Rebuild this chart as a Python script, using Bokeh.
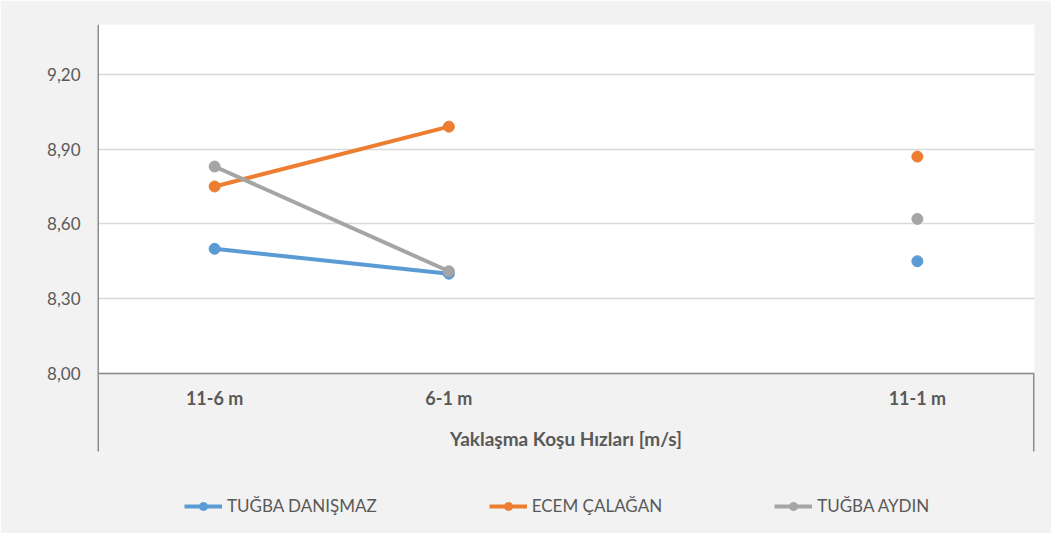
import numpy as np
from bokeh.plotting import figure
from bokeh.models import FixedTicker, BoxAnnotation, Legend, LegendItem
from bokeh.embed import file_html
from bokeh.resources import INLINE

# ---- data ----
categories = ["11-6 m", "6-1 m", "", "11-1 m"]
series_names = ["TUĞBA DANIŞMAZ", "ECEM ÇALAĞAN", "TUĞBA AYDIN"]
danismaz = [8.50, 8.40, np.nan, 8.45]
calagan = [8.75, 8.99, np.nan, 8.87]
aydin = [8.83, 8.41, np.nan, 8.62]
y_ticks = [8.0, 8.3, 8.6, 8.9, 9.2]
y_tick_labels = ["8,00", "8,30", "8,60", "8,90", "9,20"]
x_title = "Yaklaşma Koşu Hızları [m/s]"

colors = ["#5b9bd5", "#ed7d31", "#a5a5a5"]
TEXT = "#595959"
AXIS = "#8c8c8c"
FONT = "Lato"

x = [i + 0.5 for i in range(len(categories))]
x_ticks = [xi for xi, c in zip(x, categories) if c]
x_overrides = {xi: c for xi, c in zip(x, categories) if c}

W, H = 1051, 533
top_b, bot_b = 24, 13
px_per_unit = 249.2
y_max = 9.4
y_min = y_max - (H - top_b - bot_b) / px_per_unit
box_bottom = y_ticks[0] - 78 / px_per_unit

p = figure(width=W, height=H, x_range=(0, len(categories)), y_range=(y_min, y_max),
           output_backend="svg", toolbar_location=None,
           min_border_left=97, min_border_right=17, min_border_top=top_b, min_border_bottom=bot_b,
           background_fill_color="#f2f2f2", border_fill_color="#f2f2f2",
           outline_line_color=None)

# white plot area above the category axis
p.add_layout(BoxAnnotation(bottom=y_ticks[0], fill_color="white", fill_alpha=1.0,
                           line_color=None, level="image"))

# y axis
p.yaxis.ticker = FixedTicker(ticks=y_ticks)
p.yaxis.major_label_overrides = {t: l for t, l in zip(y_ticks, y_tick_labels)}
p.yaxis.major_tick_line_color = None
p.yaxis.minor_tick_line_color = None
p.yaxis.axis_line_color = None
p.yaxis.major_label_standoff = 11
p.yaxis.major_label_text_font = FONT
p.yaxis.major_label_text_font_size = "17px"
p.yaxis.major_label_text_color = TEXT

# x axis drawn at y = 8.00 inside the frame
p.xaxis.fixed_location = y_ticks[0]
p.xaxis.ticker = FixedTicker(ticks=x_ticks)
p.xaxis.major_label_overrides = x_overrides
p.xaxis.major_tick_line_color = None
p.xaxis.minor_tick_line_color = None
p.xaxis.axis_line_color = AXIS
p.xaxis.axis_line_width = 1.5
p.xaxis.major_label_standoff = 8
p.xaxis.major_label_text_font = FONT
p.xaxis.major_label_text_font_size = "18px"
p.xaxis.major_label_text_font_style = "bold"
p.xaxis.major_label_text_color = TEXT
p.xaxis.axis_label = x_title
p.xaxis.axis_label_text_font = FONT
p.xaxis.axis_label_text_font_size = "19px"
p.xaxis.axis_label_text_font_style = "bold"
p.xaxis.axis_label_text_color = TEXT
p.xaxis.axis_label_standoff = 14

p.xgrid.visible = False
p.ygrid.ticker = FixedTicker(ticks=y_ticks)
p.ygrid.grid_line_color = "#d9d9d9"
p.ygrid.grid_line_width = 1.5

# vertical dividers (value axis line and category box edges)
p.segment(x0=[0, len(categories)], y0=[box_bottom, box_bottom],
          x1=[0, len(categories)], y1=[y_max, y_ticks[0]],
          line_color=AXIS, line_width=3)

items = []
for name, ys, c in zip(series_names, [danismaz, calagan, aydin], colors):
    lr = p.line(x, ys, line_color=c, line_width=4)
    sr = p.scatter(x, ys, size=11, fill_color=c, line_color=c)
    items.append(LegendItem(label=name, renderers=[lr, sr]))

legend = Legend(items=items, orientation="horizontal", location=(87, 4),
                border_line_color=None, background_fill_alpha=0,
                label_text_font=FONT, label_text_font_size="17px", label_text_color=TEXT,
                glyph_width=38, glyph_height=20, spacing=112, label_standoff=5,
                padding=10, margin=0)
p.add_layout(legend)

open("out.html", "w").write(file_html(p, INLINE))
